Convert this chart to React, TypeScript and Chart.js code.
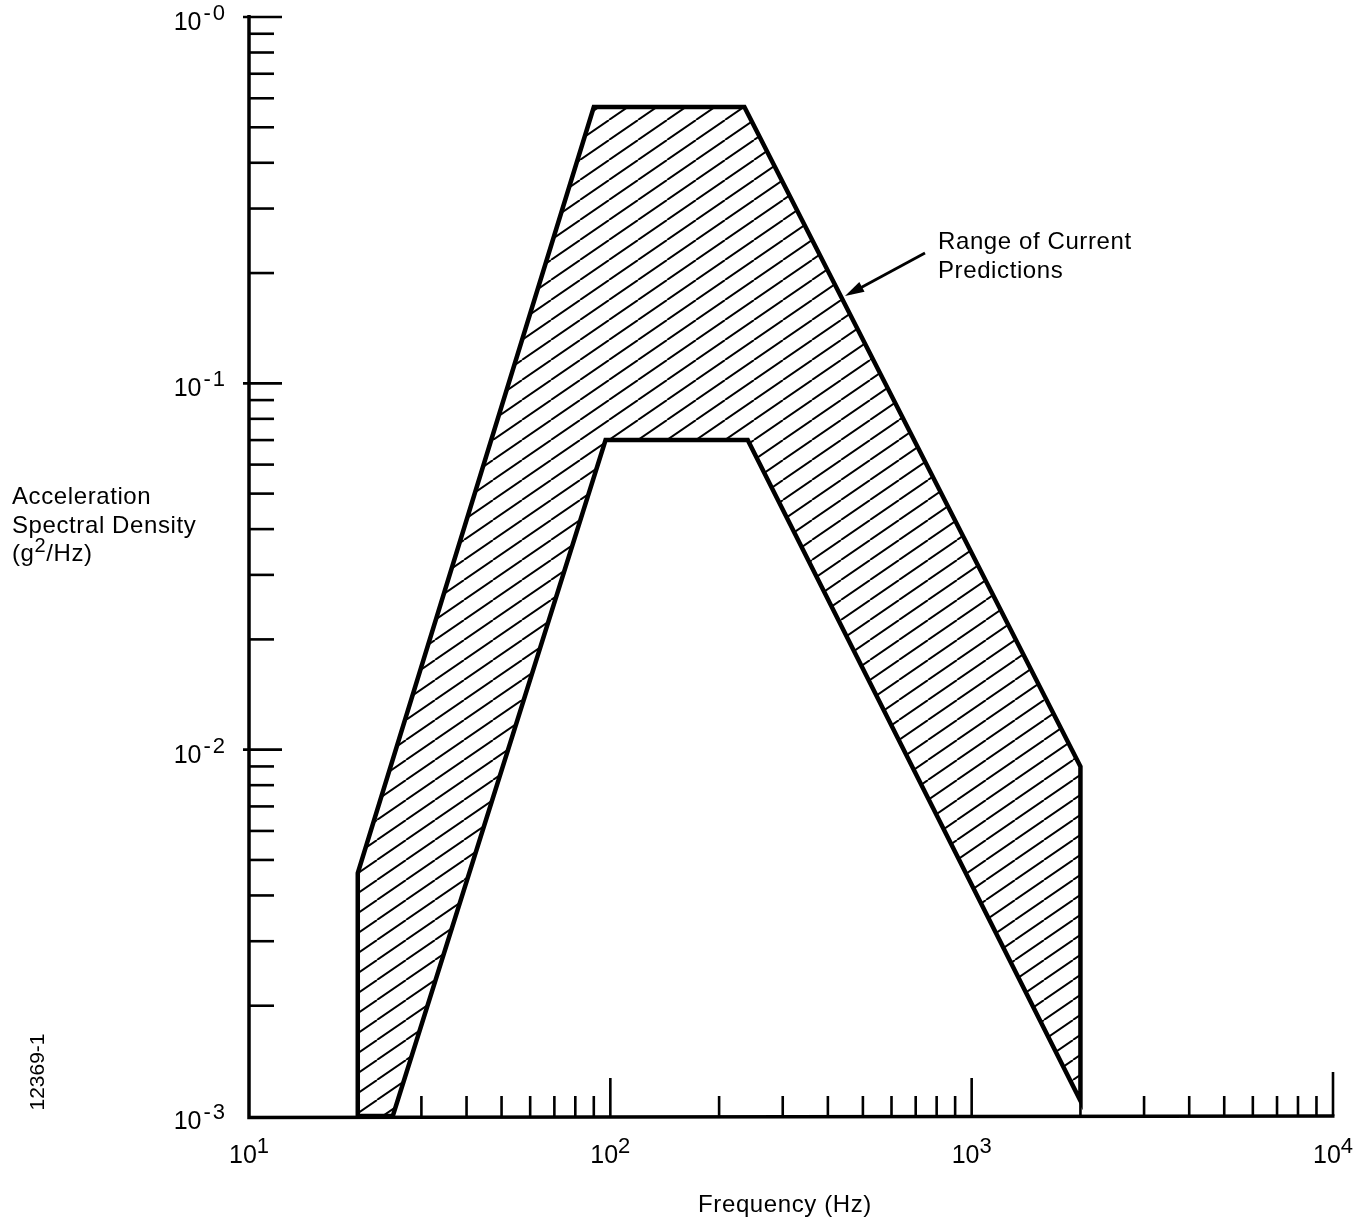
import React, { useEffect, useRef } from 'react';
import { Chart, registerables } from 'chart.js';

Chart.register(...registerables);

// Boundary of the "Range of Current Predictions" region (frequency Hz, ASD g^2/Hz)
const upperFreq = [20, 20, 90, 235, 2000, 2000];
const upperASD = [0.001, 0.0046, 0.568, 0.568, 0.009, 0.0011];
const lowerFreq = [240, 97, 25, 20];
const lowerASD = [0.07, 0.07, 0.001, 0.001];

// Axis ticks
const xMajorTicks = [10, 100, 1000, 10000];
const xMajorExp = ['1', '2', '3', '4'];
const yMajorTicks = [0.001, 0.01, 0.1, 1];
const yMajorExp = ['-3', '-2', '-1', '-0'];
const minorMultipliers = [2, 3, 4, 5, 6, 7, 8, 9];

const xTitle = 'Frequency (Hz)';
const yTitleLines = ['Acceleration', 'Spectral Density'];
const annotationLines = ['Range of Current', 'Predictions'];
const sideLabel = '12369-1';

const FONT = '"Liberation Sans", Arial, Helvetica, sans-serif';

function makeHatch(): CanvasPattern {
  const c = document.createElement('canvas');
  const w = 29;
  const h = 20;
  c.width = w;
  c.height = h;
  const g = c.getContext('2d')!;
  g.strokeStyle = '#000';
  g.lineWidth = 1.9;
  for (const dx of [-w, 0, w]) {
    g.beginPath();
    g.moveTo(dx, h);
    g.lineTo(dx + w, 0);
    g.stroke();
  }
  return g.createPattern(c, 'repeat')!;
}

function drawPow(
  ctx: CanvasRenderingContext2D,
  base: string,
  exp: string,
  x: number,
  y: number,
  align: 'center' | 'right',
  gap: number
) {
  const baseFont = `25px ${FONT}`;
  const expFont = `22px ${FONT}`;
  (ctx as any).letterSpacing = '0px';
  ctx.font = baseFont;
  const bw = ctx.measureText(base).width + gap;
  ctx.font = expFont;
  (ctx as any).letterSpacing = gap > 0 ? '2px' : '0px';
  const ew = ctx.measureText(exp).width;
  const total = bw + ew;
  const left = align === 'center' ? x - total / 2 : x - total;
  ctx.textAlign = 'left';
  ctx.textBaseline = 'alphabetic';
  (ctx as any).letterSpacing = '0px';
  ctx.font = baseFont;
  ctx.fillText(base, left, y);
  ctx.font = expFont;
  (ctx as any).letterSpacing = gap > 0 ? '2px' : '0px';
  ctx.fillText(exp, left + bw, y - 10);
  (ctx as any).letterSpacing = '0px';
}

const axesPlugin = {
  id: 'customAxes',
  afterDatasetsDraw(chart: any) {
    const ctx: CanvasRenderingContext2D = chart.ctx;
    const xs = chart.scales.x;
    const ys = chart.scales.y;
    const left = xs.getPixelForValue(10);
    const right = xs.getPixelForValue(10000);
    const top = ys.getPixelForValue(1);
    const bottom = ys.getPixelForValue(0.001);
    ctx.save();
    ctx.strokeStyle = '#000';
    ctx.fillStyle = '#000';
    ctx.lineCap = 'butt';

    // axis lines
    ctx.lineWidth = 3.5;
    ctx.beginPath();
    ctx.moveTo(left, top - 2);
    ctx.lineTo(left, bottom + 1.5);
    ctx.lineTo(right + 1.5, bottom);
    ctx.stroke();

    // y ticks (inside)
    ctx.lineWidth = 2.6;
    yMajorTicks.forEach((v, i) => {
      const py = ys.getPixelForValue(v);
      if (i > 0) {
        ctx.beginPath();
        ctx.moveTo(left - 6, py);
        ctx.lineTo(left + 33, py);
        ctx.stroke();
      }
      if (i < yMajorTicks.length - 1) {
        minorMultipliers.forEach((m) => {
          const pm = ys.getPixelForValue(v * m);
          ctx.beginPath();
          ctx.moveTo(left, pm);
          ctx.lineTo(left + 25, pm);
          ctx.stroke();
        });
      }
    });

    // x ticks (inside)
    xMajorTicks.forEach((v, i) => {
      const px = xs.getPixelForValue(v);
      if (i > 0) {
        ctx.beginPath();
        ctx.moveTo(px, bottom);
        ctx.lineTo(px, bottom - (i === xMajorTicks.length - 1 ? 44 : 38));
        ctx.stroke();
      }
      if (i < xMajorTicks.length - 1) {
        minorMultipliers.forEach((m) => {
          const pm = xs.getPixelForValue(v * m);
          ctx.beginPath();
          ctx.moveTo(pm, bottom);
          ctx.lineTo(pm, bottom - 20);
          ctx.stroke();
        });
      }
    });

    // tick labels
    xMajorTicks.forEach((v, i) => {
      drawPow(ctx, '10', xMajorExp[i], xs.getPixelForValue(v), bottom + 47, 'center', 0);
    });
    yMajorTicks.forEach((v, i) => {
      drawPow(ctx, '10', yMajorExp[i], left - 22, ys.getPixelForValue(v) + 13, 'right', 2);
    });

    (ctx as any).letterSpacing = '0.6px';
    // x title
    ctx.font = `24px ${FONT}`;
    ctx.textAlign = 'center';
    ctx.textBaseline = 'middle';
    ctx.fillText(xTitle, (left + right) / 2 - 6, 1205);

    // y title
    ctx.textAlign = 'left';
    ctx.fillText(yTitleLines[0], 12, 497);
    ctx.fillText(yTitleLines[1], 12, 526);
    // (g²/Hz)
    let tx = 12;
    ctx.fillText('(g', tx, 554);
    tx += ctx.measureText('(g').width;
    ctx.font = `20px ${FONT}`;
    ctx.fillText('2', tx, 546);
    tx += ctx.measureText('2').width;
    ctx.font = `24px ${FONT}`;
    ctx.fillText('/Hz)', tx, 554);

    // annotation
    ctx.fillText(annotationLines[0], 938, 242);
    ctx.fillText(annotationLines[1], 938, 271);
    (ctx as any).letterSpacing = '0px';

    // arrow
    const ax0 = 925, ay0 = 253, ax1 = 845, ay1 = 296;
    ctx.lineWidth = 2.8;
    ctx.beginPath();
    ctx.moveTo(ax0, ay0);
    ctx.lineTo(ax1 + 6, ay1 - 3);
    ctx.stroke();
    const ang = Math.atan2(ay1 - ay0, ax1 - ax0);
    const hl = 20;
    ctx.beginPath();
    ctx.moveTo(ax1 - hl * Math.cos(ang - 0.28), ay1 - hl * Math.sin(ang - 0.28));
    ctx.lineTo(ax1, ay1);
    ctx.lineTo(ax1 - hl * Math.cos(ang + 0.28), ay1 - hl * Math.sin(ang + 0.28));
    ctx.closePath();
    ctx.fill();

    // side label
    ctx.save();
    ctx.translate(38, 1072);
    ctx.rotate(-Math.PI / 2);
    ctx.font = `21px ${FONT}`;
    ctx.textAlign = 'center';
    ctx.textBaseline = 'middle';
    ctx.fillText(sideLabel, 0, 0);
    ctx.restore();

    ctx.restore();
  },
};

export default function App() {
  const ref = useRef<HTMLCanvasElement>(null);
  useEffect(() => {
    document.body.style.margin = '0';
    const canvas = ref.current!;
    const freq = [...upperFreq, ...lowerFreq];
    const asd = [...upperASD, ...lowerASD];
    const outline = freq.map((f, i) => ({ x: f, y: asd[i] }));
    const chart = new Chart(canvas, {
      type: 'line',
      data: {
        datasets: [
          {
            data: outline,
            borderColor: '#000',
            borderWidth: 4.5,
            backgroundColor: makeHatch(),
            fill: 'shape',
            pointRadius: 0,
            tension: 0,
            borderJoinStyle: 'miter',
          } as any,
        ],
      },
      options: {
        responsive: false,
        animation: false,
        layout: { padding: { left: 249, right: 34, top: 17, bottom: 104 } },
        plugins: { legend: { display: false }, tooltip: { enabled: false } },
        scales: {
          x: { type: 'logarithmic', min: 10, max: 10000, display: false },
          y: { type: 'logarithmic', min: 0.001, max: 1, display: false },
        },
      },
      plugins: [axesPlugin],
    });
    return () => chart.destroy();
  }, []);
  return <canvas ref={ref} width={1367} height={1220} style={{ display: 'block' }} />;
}
